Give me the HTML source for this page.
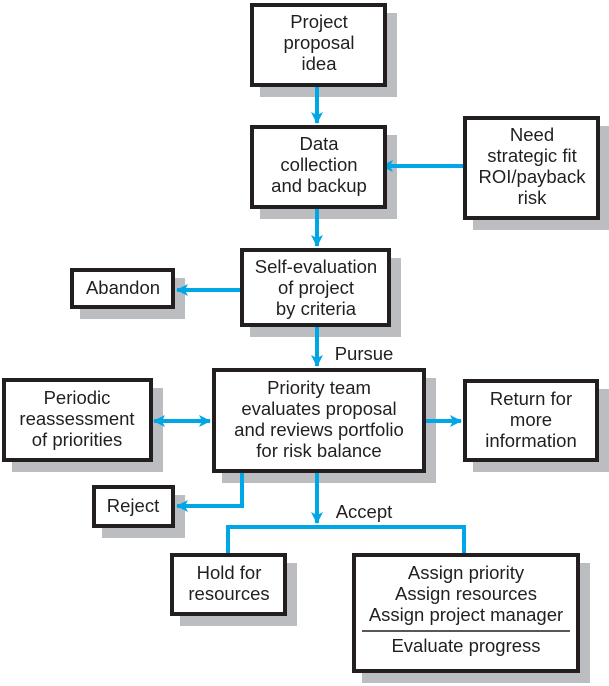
<!DOCTYPE html>
<html><head><style>
html,body{margin:0;padding:0;background:#fff;}
svg{display:block;}
text{font-family:"Liberation Sans",Arial,sans-serif;font-size:18.5px;fill:#231f20;text-anchor:middle;}
</style></head><body>
<svg width="609" height="686" viewBox="0 0 609 686" xmlns="http://www.w3.org/2000/svg">
<defs>
<marker id="a" viewBox="0 0 12 12" refX="11" refY="6" markerWidth="12" markerHeight="12" markerUnits="userSpaceOnUse" orient="auto-start-reverse">
<path d="M0,0 L12,6 L0,12 L3,6 Z" fill="#00a6e6"/>
</marker>
</defs>
<g fill="#bcbdc0">
<rect x="260" y="13" width="137" height="84"/>
<rect x="260" y="135" width="137" height="84"/>
<rect x="473" y="126" width="136" height="104"/>
<rect x="250" y="258" width="151" height="79"/>
<rect x="80" y="278" width="105" height="41"/>
<rect x="222" y="378" width="214" height="105"/>
<rect x="12" y="388" width="151" height="84"/>
<rect x="473" y="389" width="136" height="83"/>
<rect x="102" y="495" width="83" height="43"/>
<rect x="180" y="563" width="117" height="63"/>
<rect x="362" y="563" width="228" height="120"/>
</g>
<g stroke="#00a6e6" stroke-width="4" fill="none">
<line x1="317" y1="87" x2="317" y2="123" marker-end="url(#a)"/>
<line x1="463" y1="166" x2="382" y2="166" marker-end="url(#a)"/>
<line x1="317" y1="209" x2="317" y2="246" marker-end="url(#a)"/>
<line x1="240" y1="290" x2="177" y2="290" marker-end="url(#a)"/>
<line x1="317" y1="327" x2="317" y2="366" marker-end="url(#a)"/>
<line x1="154" y1="421" x2="210" y2="421" marker-start="url(#a)" marker-end="url(#a)"/>
<line x1="426" y1="421" x2="461" y2="421" marker-end="url(#a)"/>
<polyline points="242,473 242,506 177,506" marker-end="url(#a)"/>
<line x1="317" y1="473" x2="317" y2="523" marker-end="url(#a)"/>
<polyline points="228,553 228,527 464,527 464,553"/>
</g>
<g fill="#fff" stroke="#231f20" stroke-width="4">
<rect x="252" y="5" width="133" height="80"/>
<rect x="252" y="127" width="133" height="80"/>
<rect x="465" y="118" width="133" height="100"/>
<rect x="242" y="250" width="147" height="75"/>
<rect x="72" y="270" width="101" height="37"/>
<rect x="214" y="370" width="210" height="101"/>
<rect x="4" y="380" width="147" height="80"/>
<rect x="465" y="381" width="132" height="79"/>
<rect x="94" y="487" width="79" height="39"/>
<rect x="172" y="555" width="113" height="59"/>
<rect x="354" y="555" width="224" height="116"/>
</g>
<line x1="362" y1="631" x2="570" y2="631" stroke="#231f20" stroke-width="1.5"/>
<text x="319" y="28">Project</text><text x="319" y="49">proposal</text><text x="319" y="70">idea</text>
<text x="319" y="150">Data</text><text x="319" y="171">collection</text><text x="319" y="192">and backup</text>
<text x="532" y="141">Need</text><text x="532" y="162">strategic fit</text><text x="532" y="183">ROI/payback</text><text x="532" y="204">risk</text>
<text x="316" y="273">Self-evaluation</text><text x="316" y="294">of project</text><text x="316" y="315">by criteria</text>
<text x="123" y="294">Abandon</text>
<text x="364" y="360">Pursue</text>
<text x="319" y="394">Priority team</text><text x="319" y="415">evaluates proposal</text><text x="319" y="436">and reviews portfolio</text><text x="319" y="457">for risk balance</text>
<text x="77" y="404">Periodic</text><text x="77" y="425">reassessment</text><text x="77" y="446">of priorities</text>
<text x="531" y="405">Return for</text><text x="531" y="426">more</text><text x="531" y="447">information</text>
<text x="133" y="512">Reject</text>
<text x="364" y="518">Accept</text>
<text x="229" y="579">Hold for</text><text x="229" y="600">resources</text>
<text x="466" y="579">Assign priority</text><text x="466" y="600">Assign resources</text><text x="466" y="621">Assign project manager</text>
<text x="466" y="652">Evaluate progress</text>
</svg>
</body></html>
